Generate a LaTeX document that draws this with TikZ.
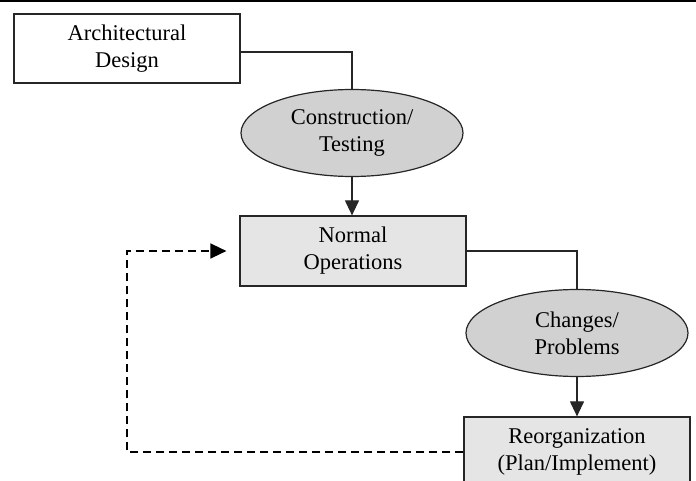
\documentclass[tikz,border=0pt]{standalone}
\usepackage{fontspec}
\setmainfont{Liberation Serif}
\usetikzlibrary{positioning,shapes.geometric,arrows.meta}

\tikzset{
  procbox/.style={draw=black!85, line width=1.2pt, fill=black!10, minimum width=226pt,
    minimum height=70pt, align=center, inner sep=2pt, font=\fontsize{22.5}{27}\selectfont},
  activity/.style={ellipse, draw=black!85, line width=1.2pt, fill=black!18, minimum width=222pt,
    minimum height=87pt, align=center, inner sep=1pt, font=\fontsize{22.5}{27}\selectfont},
  flow/.style={line width=1.1pt, black!85},
  flowtip/.style={flow, -{Triangle[length=15pt,width=14pt]}},
  loopline/.style={line width=1.5pt, dash pattern=on 8pt off 5pt, -{Triangle[length=16pt,width=15pt]}}
}

\begin{document}
\begin{tikzpicture}[x=1pt, y=-1pt]
\useasboundingbox (0,0) rectangle (696,481);
\def\xa{127};
\def\xb{352};
\def\xc{577};

\def\ya{48.5};
\def\yb{133};
\def\yc{251};
\def\yd{333};
\def\ye{452};

% top rule
\draw[line width=1.5pt] (0,0.8) -- (696,0.8);

\node[procbox, fill=white, minimum height=69pt] (design) at (\xa, \ya) {Architectural\\Design};
\node[activity] (build) at (\xb, \yb) {Construction/\\Testing};
\node[procbox] (normal) at (\xb + 1, \yc) {Normal\\Operations};
\node[activity] (change) at (\xc, \yd) {Changes/\\Problems};
\node[procbox] (reorg) at (\xc, \ye) {Reorganization\\(Plan/Implement)};

\coordinate (loopbot) at (\xa, \ye);
\coordinate (looptop) at (\xa, \yc);

\draw[flow] ([yshift=-3.5pt]design.east) -| (build.north);
\draw[flowtip] (build.south) -- (build.south |- normal.north);
\draw[flow] (normal.east) -| (change.north);
\draw[flowtip] (change.south) -- (reorg.north);

\draw[loopline] (reorg.west) -- (loopbot) -- (looptop) -- ([xshift=-13pt]normal.west);

\end{tikzpicture}
\end{document}
